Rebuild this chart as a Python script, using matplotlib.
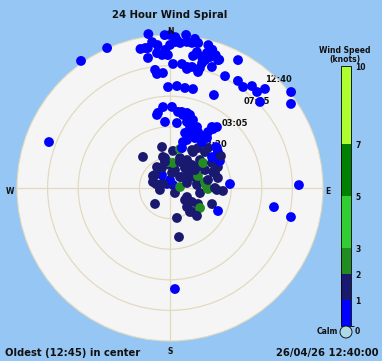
import numpy as np
import matplotlib
matplotlib.use("Agg")
import matplotlib.pyplot as plt
from matplotlib.colors import ListedColormap, BoundaryNorm
from matplotlib.patches import Ellipse
import matplotlib.colorbar as mcolorbar

# ---------------- data (direction deg, age fraction 0=oldest centre .. 1=newest) -------------
blue_dir = [352, 358, 0, 2, 6, 9.5, 11, 15, 17, 19, 21, 353, 355, 354.5, 356.6, 358, 0, 2, 4, 6.6,
            8.6, 348, 350, 351, 350.4, 11.2, 9.9, 13.7, 15.3, 17, 15.3, 14.4, 14, 13.6, 19.1, 1.4,
            5.5, 8, 10.3, 8.1, 352.8, 353.5, 356.5, 28, 26.2, 32.4, 35.9, 358.9, 3.9, 8.5, 13.1,
            25.3, 335.8, 325, 290.8, 38.8, 42.2, 46.3, 43.8, 51.6, 55.2, 88.7, 100.4, 103.5, 86.2,
            115.6, 177.2, 359.1, 20.6, 2.7,
            355.1, 1.4, 350.9, 349.9, 355.7, 6, 10.1, 15.3, 6.1, 14.4, 18.7, 18.2, 23.9, 26.6, 20,
            15.3, 19.5, 15.8, 26.6, 32.1, 34.2, 34.5, 37.6, 36.5, 34.8, 16.7, 49.6, 53.1, 53.6,
            12.8, 36.1, 61.6, 328.4, 323, 0, 45, 48.3, 8.8, 15.9, 29.5]
blue_age = [1.016, 1.0, 1.0, 0.987, 1.006, 0.988, 0.965, 0.967, 0.945, 0.918, 0.898, 0.961, 0.938,
            0.886, 0.871, 0.903, 0.935, 0.955, 0.95, 0.961, 0.959, 0.929, 0.929, 0.926, 0.862,
            0.906, 0.876, 0.881, 0.915, 0.895, 0.867, 0.843, 0.808, 0.78, 0.837, 0.811, 0.814,
            0.799, 0.804, 0.786, 0.778, 0.75, 0.753, 0.947, 0.815, 0.829, 0.815, 0.66, 0.668,
            0.661, 0.664, 0.672, 1.003, 1.014, 0.846, 0.855, 0.847, 0.814, 0.897, 1.01, 0.963,
            0.843, 0.691, 0.813, 0.393, 0.348, 0.661, 0.869, 0.893, 0.968,
            0.531, 0.53, 0.497, 0.485, 0.433, 0.5, 0.485, 0.495, 0.427, 0.446, 0.469, 0.42, 0.436,
            0.409, 0.382, 0.373, 0.333, 0.312, 0.365, 0.393, 0.442, 0.484, 0.503, 0.407, 0.366,
            0.273, 0.403, 0.392, 0.341, 0.503, 0.477, 0.371, 0.1, 0.033, 0.052, 0.028, 0.403,
            0.503, 0.476, 0.398]
blue_speed = 0.6

dark_dir = [349, 4.6, 30.1, 35, 44.2, 57.9, 347.3, 328.2, 338.2, 21, 35.8, 52.1, 59.2, 66.4, 71.6,
            78.2, 50.2, 47.5, 7.6, 305.2, 286, 0, 135, 83.7, 92.4, 93.2, 128.7, 138.2, 140.2, 136,
            119.7, 110.9, 319, 223.2, 169.6, 166.9, 32.6, 350.5, 18.4, 311, 289.4, 305.5, 42.3,
            36.9, 61.2, 43.7, 117.9, 122.5, 43.5, 31.3, 54.2, 69.6, 78.1, 90, 79.5, 73.6, 136.2,
            0, 15.5, 47, 62.8, 259, 99.5, 349]
dark_age = [0.273, 0.243, 0.287, 0.319, 0.328, 0.393, 0.208, 0.161, 0.141, 0.182, 0.201, 0.224,
            0.319, 0.342, 0.31, 0.32, 0.153, 0.106, 0.099, 0.136, 0.095, 0.033, 0.046, 0.178,
            0.307, 0.347, 0.126, 0.167, 0.204, 0.254, 0.211, 0.294, 0.269, 0.143, 0.326, 0.201,
            0.279, 0.199, 0.207, 0.13, 0.118, 0.056, 0.097, 0.163, 0.149, 0.208, 0.126, 0.17,
            0.361, 0.214, 0.201, 0.3, 0.254, 0.294, 0.18, 0.116, 0.217, 0.15, 0.122, 0.268,
            0.257, 0.067, 0.199, 0.173]
dark_speed = 1.5

green_dir = [14.4, 355.6, 6.8, 52.9, 66.8, 84.3, 85.2, 91.5, 123.7, 80.3]
green_age = [0.263, 0.17, 0.165, 0.271, 0.199, 0.066, 0.236, 0.248, 0.236, 0.232]
green_speed = 2.5

ring_ages = [0.2, 0.4, 0.6, 0.8, 1.0]
ring_labels = ["17:35", "22:20", "03:05", "07:05", "12:40"]

speed_bounds = [0, 1, 2, 3, 5, 7, 10]
speed_colors = ["#0000ff", "#191970", "#228b22", "#32cd32", "#008000", "#adff2f"]

# ---------------- figure ----------------
W, H = 382, 361
bg = "#96c6f3"
plt.rcParams["font.family"] = ["DejaVu Sans"]
fig = plt.figure(figsize=(W / 100, H / 100), dpi=100, facecolor=bg)
TXT = "#111111"

cx, cy, R = 170, 188, 153
ax = fig.add_axes([(cx - R) / W, (H - cy - R) / H, 2 * R / W, 2 * R / H], projection="polar")
ax.set_facecolor("#f5f5f5")
ax.set_theta_zero_location("N")
ax.set_theta_direction(-1)
ax.set_ylim(0, 1)
grid_col = "#e2dac0"
ax.set_rgrids(ring_ages[:-1], labels=[""] * 4)
ax.set_thetagrids([0, 90, 180, 270], labels=[""] * 4)
ax.grid(True, color=grid_col, linewidth=0.9)
ax.spines["polar"].set_color(grid_col)
ax.spines["polar"].set_linewidth(0.8)
ax.tick_params(length=0)

cmap = ListedColormap(speed_colors)
norm = BoundaryNorm(speed_bounds, cmap.N)

for a, lab in zip(ring_ages, ring_labels):
    ax.text(np.deg2rad(45), a, lab, ha="center", va="center", fontsize=6,
            fontweight="bold", color=TXT, zorder=2)

dirs = np.array(blue_dir + dark_dir + green_dir, dtype=float)
ages = np.array(blue_age + dark_age + green_age, dtype=float)
speeds = np.array([blue_speed] * len(blue_dir) + [dark_speed] * len(dark_dir)
                  + [green_speed] * len(green_dir))
order = np.argsort(ages)
ax.scatter(np.deg2rad(dirs[order]), ages[order], c=speeds[order], cmap=cmap, norm=norm,
           s=50, linewidths=0, zorder=3, clip_on=False)

# compass labels
fs_c = 5.5
fig.text(cx / W, 1 - 32 / H, "N", ha="center", va="center", fontsize=fs_c, fontweight="bold", color=TXT)
fig.text(cx / W, 1 - 351 / H, "S", ha="center", va="center", fontsize=fs_c, fontweight="bold", color=TXT)
fig.text(10 / W, 1 - 191 / H, "W", ha="center", va="center", fontsize=fs_c, fontweight="bold", color=TXT)
fig.text(328 / W, 1 - 191 / H, "E", ha="center", va="center", fontsize=fs_c, fontweight="bold", color=TXT)

fig.text(170 / W, 1 - 15 / H, "24 Hour Wind Spiral", ha="center", va="center",
         fontsize=7.3, fontweight="bold", color=TXT)
fig.text(5 / W, 1 - 353 / H, "Oldest (12:45) in center", ha="left", va="center",
         fontsize=7.2, fontweight="bold", color=TXT)
fig.text(378 / W, 1 - 353 / H, "26/04/26 12:40:00", ha="right", va="center",
         fontsize=7.2, fontweight="bold", color=TXT)

# colour bar
cax = fig.add_axes([341 / W, (H - 326) / H, 10 / W, 260 / H])
cb = mcolorbar.ColorbarBase(cax, cmap=cmap, norm=norm, boundaries=speed_bounds,
                            spacing="proportional", ticks=speed_bounds[1:])
cb.outline.set_linewidth(0.6)
cax.tick_params(length=0, pad=3, labelsize=5.5)
for t in cax.get_yticklabels():
    t.set_fontweight("bold")
    t.set_color(TXT)
fig.text(345 / W, 1 - 55 / H, "Wind Speed\n(knots)", ha="center", va="center",
         fontsize=5.5, fontweight="bold", linespacing=0.95, color=TXT)
fig.add_artist(Ellipse((346 / W, 1 - 332 / H), 12 / W, 12 / H, transform=fig.transFigure,
                       facecolor="#add8e6", edgecolor="black", linewidth=0.6))
fig.text(338 / W, 1 - 331 / H, "Calm", ha="right", va="center", fontsize=5.5, fontweight="bold", color=TXT)
fig.text(355 / W, 1 - 331 / H, "0", ha="left", va="center", fontsize=5.5, fontweight="bold", color=TXT)

fig.savefig("out.png", dpi=100, facecolor=bg)
